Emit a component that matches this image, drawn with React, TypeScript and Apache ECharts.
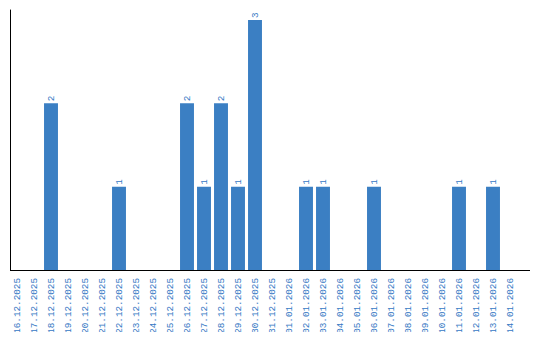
import React, { useEffect, useRef } from "react";
import * as echarts from "echarts";

const categories = [
  "16.12.2025", "17.12.2025", "18.12.2025", "19.12.2025", "20.12.2025",
  "21.12.2025", "22.12.2025", "23.12.2025", "24.12.2025", "25.12.2025",
  "26.12.2025", "27.12.2025", "28.12.2025", "29.12.2025", "30.12.2025",
  "31.12.2025", "01.01.2026", "02.01.2026", "03.01.2026", "04.01.2026",
  "05.01.2026", "06.01.2026", "07.01.2026", "08.01.2026", "09.01.2026",
  "10.01.2026", "11.01.2026", "12.01.2026", "13.01.2026", "14.01.2026",
];

const values: (number | null)[] = [
  null, null, 2, null, null,
  null, 1, null, null, null,
  2, 1, 2, 1, 3,
  null, null, 1, 1, null,
  null, 1, null, null, null,
  null, 1, null, 1, null,
];

const BAR = "#3b7fc3";
const TEXT = "#3578c4";
const FONT = "Liberation Mono";

export default function App() {
  const ref = useRef<HTMLDivElement>(null);
  useEffect(() => {
    if (!ref.current) return;
    const chart = echarts.init(ref.current, undefined, { renderer: "svg" });
    chart.setOption({
      animation: false,
      grid: { left: 8.5, top: 10, width: 510, bottom: 70 },
      graphic: [
        {
          type: "line",
          shape: { x1: 10, y1: 270.5, x2: 530, y2: 270.5 },
          style: { stroke: "#000", lineWidth: 1 },
          z: 10,
        },
      ],
      xAxis: {
        type: "category",
        data: categories,
        axisLine: { show: false },
        axisTick: { show: false },
        axisLabel: {
          rotate: 90,
          interval: 0,
          color: TEXT,
          fontFamily: FONT,
          fontSize: 9.3,
          margin: 8,
        },
      },
      yAxis: {
        type: "value",
        min: 0,
        max: 3.12,
        offset: -1.5,
        axisLine: { show: true, lineStyle: { color: "#000", width: 1 } },
        axisTick: { show: false },
        axisLabel: { show: false },
        splitLine: { show: false },
      },
      series: [
        {
          type: "bar",
          data: values,
          barCategoryGap: "18%",
          itemStyle: { color: BAR },
          label: {
            show: true,
            position: "top",
            rotate: 90,
            align: "left",
            verticalAlign: "middle",
            distance: 2,
            color: TEXT,
            fontFamily: FONT,
            fontSize: 9.3,
          },
        },
      ],
    });
    return () => chart.dispose();
  }, []);
  return <div ref={ref} style={{ width: 540, height: 340, margin: -8 }} />;
}
